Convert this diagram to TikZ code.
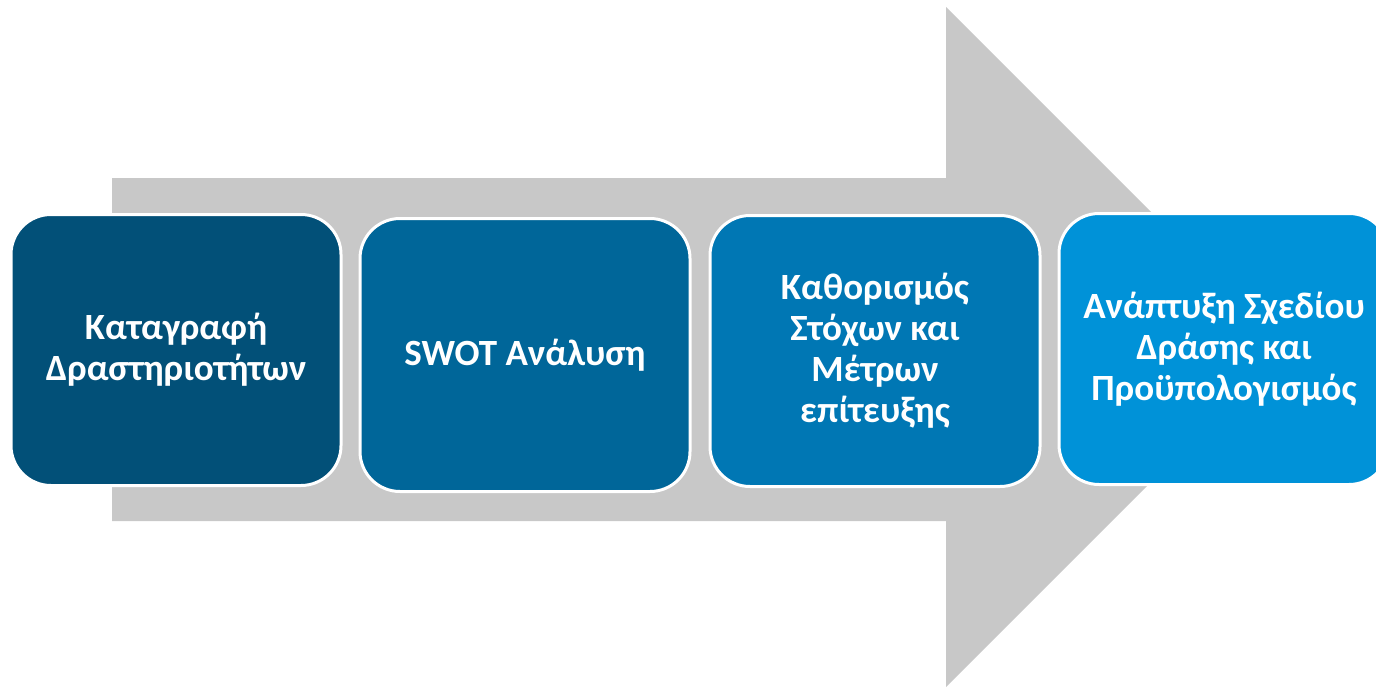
\documentclass[tikz,border=0pt]{standalone}
\usepackage{fontspec}
\setmainfont{Carlito}
\definecolor{arrowgray}{RGB}{200,200,200}
\definecolor{cone}{RGB}{2,80,120}
\definecolor{ctwo}{RGB}{0,102,153}
\definecolor{cthree}{RGB}{0,119,180}
\definecolor{cfour}{RGB}{0,146,216}
\tikzset{
  stepbox/.style={draw=white, line width=3pt, rounded corners=40pt,
    text=white, align=center, inner sep=0pt,
    font=\fontsize{37}{41}\selectfont\bfseries,
    minimum width=330pt, minimum height=271pt},
}
\begin{document}
\begin{tikzpicture}[x=1pt,y=-1pt]
\useasboundingbox (0,0) rectangle (1376,688);
\clip (0,0) rectangle (1376,688);
% big gray arrow
\fill[arrowgray] (112,178) -- (946,178) -- (946,7) -- (1286,347) -- (946,687) -- (946,521) -- (112,521) -- cycle;
% step boxes
\node[stepbox, fill=cone] (b1) at (176,350) {Καταγραφή\\Δραστηριοτήτων};
\node[stepbox, fill=ctwo, minimum height=273pt] (b2) at (525,355) {SWOT Ανάλυση};
\node[stepbox, fill=cthree] (b3) at (875,351) {Καθορισμός\\Στόχων και\\Μέτρων\\επίτευξης};
\node[stepbox, fill=cfour] (b4) at (1224,349) {Ανάπτυξη Σχεδίου\\Δράσης και\\Προϋπολογισμός};
\end{tikzpicture}
\end{document}
